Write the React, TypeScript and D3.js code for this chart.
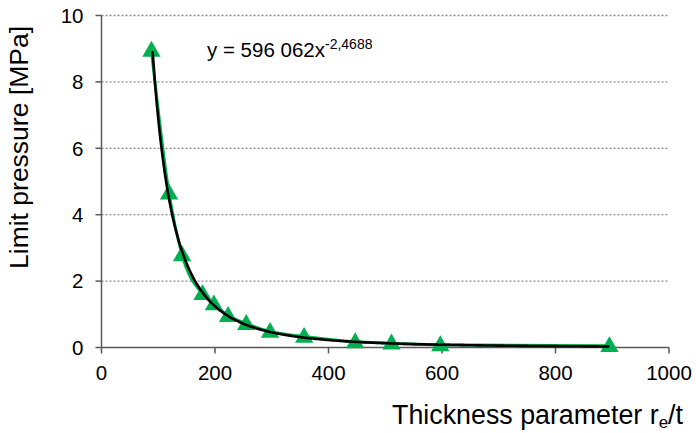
import React from "react";
import * as d3 from "d3";

const xValues = [88, 119, 142, 178, 198, 223, 255, 297, 357, 447, 511, 597, 895];
const yValues = [8.95, 4.65, 2.79, 1.62, 1.31, 0.96, 0.72, 0.48, 0.33, 0.17, 0.13, 0.08, 0.05];
const xTicks = [0, 200, 400, 600, 800, 1000];
const yTicks = [0, 2, 4, 6, 8, 10];
const fitA = 596062;
const fitB = -2.4688;
const fitRange = [90, 895];

const W = 696;
const H = 433;
const font = "Liberation Sans, Arial, sans-serif";

export default function App() {
  const x = d3.scaleLinear().domain([0, 1000]).range([101.5, 669]);
  const y = d3.scaleLinear().domain([0, 10]).range([347.5, 15.5]);

  const fitPts: [number, number][] = d3
    .range(0, 201)
    .map((i) => fitRange[0] + ((fitRange[1] - fitRange[0]) * i) / 200)
    .map((v) => [v, fitA * Math.pow(v, fitB)]);
  const line = d3
    .line<[number, number]>()
    .x((d) => x(d[0]))
    .y((d) => y(d[1]))
    .curve(d3.curveMonotoneX);
  const dataPts: [number, number][] = xValues.map((v, i) => [v, yValues[i]]);
  const tri = d3.symbol().type(d3.symbolTriangle).size(145)();

  return (
    <svg width={W} height={H} style={{ position: "absolute", left: 0, top: 0 }} fontFamily={font}>
      <rect width={W} height={H} fill="#fff" />
      {yTicks
        .filter((t) => t > 0)
        .map((t) => (
          <line
            key={"g" + t}
            x1={x(0)}
            x2={x(1000)}
            y1={y(t)}
            y2={y(t)}
            stroke="#8c8c8c"
            strokeWidth={1.3}
            strokeDasharray="2,2"
          />
        ))}
      {/* axes */}
      <line x1={x(0)} x2={x(0)} y1={y(10)} y2={y(0)} stroke="#595959" strokeWidth={1.5} />
      <line x1={x(0)} x2={x(1000)} y1={y(0)} y2={y(0)} stroke="#595959" strokeWidth={1.5} />
      {yTicks.map((t) => (
        <g key={"y" + t}>
          <line x1={x(0) - 6} x2={x(0)} y1={y(t)} y2={y(t)} stroke="#595959" strokeWidth={1.5} />
          <text x={83.5} y={y(t)} dy="0.36em" textAnchor="end" fontSize={20.5} fill="#000">
            {t}
          </text>
        </g>
      ))}
      {xTicks.map((t) => (
        <g key={"x" + t}>
          <line x1={x(t)} x2={x(t)} y1={y(0)} y2={y(0) + 6} stroke="#595959" strokeWidth={1.5} />
          <text x={x(t)} y={380} textAnchor="middle" fontSize={20.5} fill="#000">
            {t}
          </text>
        </g>
      ))}
      {/* series line */}
      <path d={line(dataPts) || ""} fill="none" stroke="#00B050" strokeWidth={3} />
      {dataPts.map((d, i) => (
        <path key={"m" + i} d={tri || ""} transform={`translate(${x(d[0])},${y(d[1]) + 1})`} fill="#00B050" />
      ))}
      {/* trendline */}
      <path d={line(fitPts) || ""} fill="none" stroke="#000" strokeWidth={2.6} />
      {/* equation */}
      <text x={207} y={56.5} fontSize={20.5} fill="#000">
        y = 596 062x
        <tspan fontSize={14} dy={-8}>
          -2,4688
        </tspan>
      </text>
      {/* axis titles */}
      <text
        transform={`translate(27.5,147.5) rotate(-90)`}
        textAnchor="middle"
        fontSize={26.5}
        fill="#000"
      >
        Limit pressure [MPa]
      </text>
      <text x={683} y={424} textAnchor="end" fontSize={26.8} fill="#000">
        Thickness parameter r<tspan fontSize={17} dy={4}>e</tspan>
        <tspan dy={-4}>/t</tspan>
      </text>
    </svg>
  );
}
